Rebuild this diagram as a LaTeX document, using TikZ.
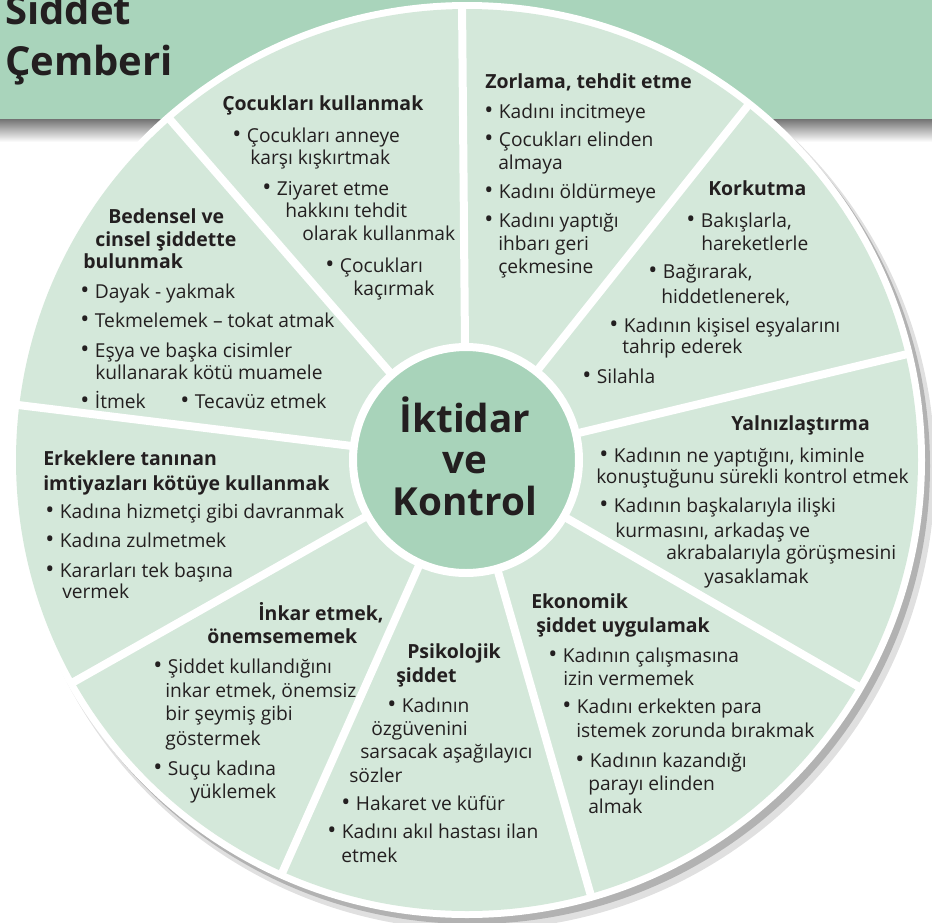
\documentclass[tikz,border=0pt]{standalone}
\usepackage{fontspec}
\setmainfont{Open Sans}
\definecolor{hdrgreen}{RGB}{169,212,187}
\definecolor{wedge}{RGB}{212,232,218}
\definecolor{hubgreen}{RGB}{168,211,186}
\definecolor{ink}{RGB}{35,31,32}
\newcommand{\txtfont}{\fontsize{14.4}{17}\selectfont}
\newcommand{\headfont}{\fontsize{14.6}{17}\selectfont\bfseries}
\newcommand{\blt}{{\fontsize{18}{17}\selectfont\raisebox{-0.6pt}{•}}\hspace{0.5pt}}
\tikzset{
    wheel-line/.style = {anchor=base west, inner sep=0pt, text=ink, font=\txtfont},
    wheel-head/.style = {wheel-line, font=\headfont},
    hub-line/.style = {anchor=base, inner sep=0pt, text=ink, font=\fontsize{29}{31}\selectfont\bfseries},
    title-line/.style = {anchor=base west, inner sep=0pt, text=ink, font=\fontsize{30}{32}\selectfont\bfseries},
    spoke/.style = {white, line width=6pt},
}
\begin{document}
\begin{tikzpicture}[x=0.75pt, y=-0.75pt]
\useasboundingbox (0,0) rectangle (932,922);
\clip (0,0) rectangle (932,922);
\fill[hdrgreen] (0,0) rectangle (932,119);
\shade[top color=black!55, bottom color=white] (0,119) rectangle (932,142);
\fill[black!12] (475,470) circle [radius=460];
\fill[black!30] (472,466) circle [radius=458];
\fill[white] (467,460) circle [radius=458];
\fill[wedge] (467,460) circle [radius=451];
\coordinate (mid) at (466,460);
\foreach \a in {-90.5,-131,-173,-209.5,-246,-286,-330,-13.5,-51.5}
    \draw[spoke] (mid) -- ++(\a:456);
\node[circle, fill=hubgreen, draw=white, line width=6pt, minimum size=169.5pt, inner sep=0pt] (hub) at (mid) {};
\node[hub-line] (hub-1) at (465,432) {İktidar};
\node[hub-line] (hub-2) at (465,473) {ve};
\node[hub-line] (hub-3) at (465,515) {Kontrol};

\node[title-line] (title-1) at (5,24) {Siddet};
\node[title-line] (title-2) at (5,75) {Çemberi};

\node[wheel-head] (coc-h) at (222,110) {Çocukları kullanmak};
\node[wheel-line] (coc-1) at (232,142) {\blt\ Çocukları anneye};
\node[wheel-line] (coc-2) at (250,164) {karşı kışkırtmak};
\node[wheel-line] (coc-3) at (262,195) {\blt\ Ziyaret etme};
\node[wheel-line] (coc-4) at (285,217) {hakkını tehdit};
\node[wheel-line] (coc-5) at (302,240) {olarak kullanmak};
\node[wheel-line] (coc-6) at (325,272) {\blt\ Çocukları};
\node[wheel-line] (coc-7) at (353,295) {kaçırmak};

\node[wheel-head] (zor-h) at (485,88) {Zorlama, tehdit etme};
\node[wheel-line] (zor-1) at (484,118) {\blt\ Kadını incitmeye};
\node[wheel-line] (zor-2) at (484,146) {\blt\ Çocukları elinden};
\node[wheel-line] (zor-3) at (498,169) {almaya};
\node[wheel-line] (zor-4) at (484,198) {\blt\ Kadını öldürmeye};
\node[wheel-line] (zor-5) at (484,227) {\blt\ Kadını yaptığı};
\node[wheel-line] (zor-6) at (498,250) {ihbarı geri};
\node[wheel-line] (zor-7) at (498,273) {çekmesine};

\node[wheel-head] (kor-h) at (708,195) {Korkutma};
\node[wheel-line] (kor-1) at (686,227) {\blt\ Bakışlarla,};
\node[wheel-line] (kor-2) at (701,250) {hareketlerle};
\node[wheel-line] (kor-3) at (648,278) {\blt\ Bağırarak,};
\node[wheel-line] (kor-4) at (661,303) {hiddetlenerek,};
\node[wheel-line] (kor-5) at (609,332) {\blt\ Kadının kişisel eşyalarını};
\node[wheel-line] (kor-6) at (622,353) {tahrip ederek};
\node[wheel-line] (kor-7) at (582,383) {\blt\ Silahla};

\node[wheel-head] (yal-h) at (731,430) {Yalnızlaştırma};
\node[wheel-line] (yal-1) at (599,462) {\blt\ Kadının ne yaptığını, kiminle};
\node[wheel-line] (yal-2) at (596,483) {konuştuğunu sürekli kontrol etmek};
\node[wheel-line] (yal-3) at (599,512) {\blt\ Kadının başkalarıyla ilişki};
\node[wheel-line] (yal-4) at (615,537) {kurmasını, arkadaş ve};
\node[wheel-line] (yal-5) at (666,559) {akrabalarıyla görüşmesini};
\node[wheel-line] (yal-6) at (704,583) {yasaklamak};

\node[wheel-head] (eko-h1) at (531,608) {Ekonomik};
\node[wheel-head] (eko-h2) at (536,632) {şiddet uygulamak};
\node[wheel-line] (eko-1) at (548,662) {\blt\ Kadının çalışmasına};
\node[wheel-line] (eko-2) at (563,685) {izin vermemek};
\node[wheel-line] (eko-3) at (562,713) {\blt\ Kadını erkekten para};
\node[wheel-line] (eko-4) at (576,737) {istemek zorunda bırakmak};
\node[wheel-line] (eko-5) at (575,767) {\blt\ Kadının kazandığı};
\node[wheel-line] (eko-6) at (588,790) {parayı elinden};
\node[wheel-line] (eko-7) at (588,813) {almak};

\node[wheel-head] (psi-h1) at (407,658) {Psikolojik};
\node[wheel-head] (psi-h2) at (396,682) {şiddet};
\node[wheel-line] (psi-1) at (387,712) {\blt\ Kadının};
\node[wheel-line] (psi-2) at (371,735) {özgüvenini};
\node[wheel-line] (psi-3) at (360,758) {sarsacak aşağılayıcı};
\node[wheel-line] (psi-4) at (349,782) {sözler};
\node[wheel-line] (psi-5) at (341,810) {\blt\ Hakaret ve küfür};
\node[wheel-line] (psi-6) at (327,838) {\blt\ Kadını akıl hastası ilan};
\node[wheel-line] (psi-7) at (341,862) {etmek};

\node[wheel-head] (ink-h1) at (258,620) {İnkar etmek,};
\node[wheel-head] (ink-h2) at (207,643) {önemsememek};
\node[wheel-line] (ink-1) at (153,673) {\blt\ Şiddet kullandığını};
\node[wheel-line] (ink-2) at (165,697) {inkar etmek, önemsiz};
\node[wheel-line] (ink-3) at (165,720) {bir şeymiş gibi};
\node[wheel-line] (ink-4) at (165,745) {göstermek};
\node[wheel-line] (ink-5) at (153,775) {\blt\ Suçu kadına};
\node[wheel-line] (ink-6) at (190,798) {yüklemek};

\node[wheel-head] (erk-h1) at (43,465) {Erkeklere tanınan};
\node[wheel-head] (erk-h2) at (43,490) {imtiyazları kötüye kullanmak};
\node[wheel-line] (erk-1) at (45,518) {\blt\ Kadına hizmetçi gibi davranmak};
\node[wheel-line] (erk-2) at (45,547) {\blt\ Kadına zulmetmek};
\node[wheel-line] (erk-3) at (45,577) {\blt\ Kararları tek başına};
\node[wheel-line] (erk-4) at (62,598) {vermek};

\node[wheel-head] (bed-h1) at (108,223) {Bedensel ve};
\node[wheel-head] (bed-h2) at (95,246) {cinsel şiddette};
\node[wheel-head] (bed-h3) at (83,268) {bulunmak};
\node[wheel-line] (bed-1) at (80,298) {\blt\ Dayak - yakmak};
\node[wheel-line] (bed-2) at (80,327) {\blt\ Tekmelemek – tokat atmak};
\node[wheel-line] (bed-3) at (80,357) {\blt\ Eşya ve başka cisimler};
\node[wheel-line] (bed-4) at (95,379) {kullanarak kötü muamele};
\node[wheel-line] (bed-5) at (80,408) {\blt\ İtmek};
\node[wheel-line] (bed-6) at (180,408) {\blt\ Tecavüz etmek};
\end{tikzpicture}
\end{document}
